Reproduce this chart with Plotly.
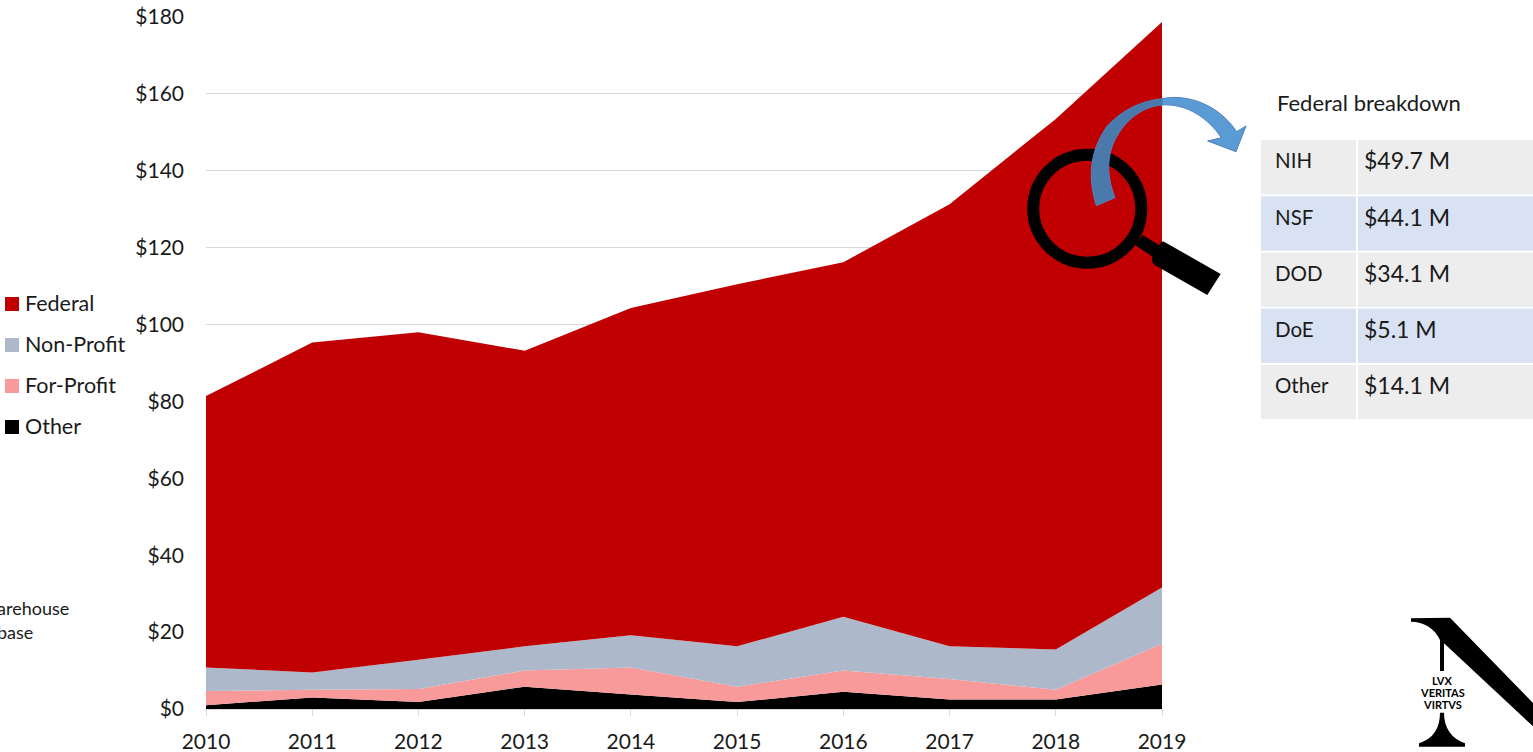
import plotly.graph_objects as go

years = [2010, 2011, 2012, 2013, 2014, 2015, 2016, 2017, 2018, 2019]
other = [1.0, 3.0, 1.8, 5.8, 3.8, 1.8, 4.5, 2.5, 2.5, 6.4]
for_profit = [3.7, 2.0, 3.4, 4.2, 7.0, 4.0, 5.5, 5.3, 2.5, 10.6]
non_profit = [6.1, 4.5, 7.6, 6.3, 8.4, 10.5, 14.0, 8.5, 10.5, 14.6]
federal = [70.6, 85.8, 85.2, 76.9, 85.1, 94.2, 92.2, 115.0, 138.0, 147.1]
y_ticks = [0, 20, 40, 60, 80, 100, 120, 140, 160, 180]
y_labels = ["$0", "$20", "$40", "$60", "$80", "$100", "$120", "$140", "$160", "$180"]
legend_names = ["Federal", "Non-Profit", "For-Profit", "Other"]
table_agencies = ["NIH", "NSF", "DOD", "DoE", "Other"]
table_amounts = ["$49.7 M", "$44.1 M", "$34.1 M", "$5.1 M", "$14.1 M"]

W, H = 1533, 752
FONT = "Lato, Carlito, sans-serif"
TXT = "#1a1a1a"
colors = {"Federal": "#C00000", "Non-Profit": "#ADB9CA", "For-Profit": "#F89A9A", "Other": "#000000"}


def fx(x):
    return x / W


def fy(y):
    return 1 - y / H


def crop_path(cmds, ox, oy):
    """Decoration outline given in 3x crop coordinates whose origin is (ox, oy)."""
    out = []
    for c in cmds:
        if isinstance(c, str):
            out.append(c)
        else:
            out.append(f"{fx(ox + c[0] / 3):.5f},{fy(oy + c[1] / 3):.5f}")
    return " ".join(out)


def lens(cmds):
    return crop_path(cmds, 1020, 90)


def logo(cmds):
    return crop_path(cmds, 1380, 600)


fig = go.Figure()
for name, vals in [("Other", other), ("For-Profit", for_profit), ("Non-Profit", non_profit), ("Federal", federal)]:
    fig.add_trace(go.Scatter(x=years, y=vals, name=name, mode="none", stackgroup="one",
                             fillcolor=colors[name], showlegend=False))

shapes, ann = [], []


def text(x, y, s, size=21, anchor="left", color=TXT, bold=False):
    ann.append(dict(xref="paper", yref="paper", x=fx(x), y=fy(y), text=f"<b>{s}</b>" if bold else s,
                    showarrow=False, xanchor=anchor, yanchor="middle",
                    font=dict(family=FONT, size=size, color=color), borderpad=0, borderwidth=0))


def rect(x0, y0, x1, y1, color):
    shapes.append(dict(type="rect", xref="paper", yref="paper", x0=fx(x0), x1=fx(x1), y0=fy(y0), y1=fy(y1),
                       fillcolor=color, line=dict(width=0), layer="above"))


def poly(d, fill, line=None):
    shapes.append(dict(type="path", xref="paper", yref="paper", layer="above", fillcolor=fill,
                       line=dict(color=line, width=1) if line else dict(width=0), path=d))


# legend
for i, n in enumerate(legend_names):
    yc = 304 + i * 41
    rect(5, yc - 7, 19, yc + 7, colors[n])
    text(25, yc - 1, n, size=21.5)

# clipped source note
text(-3, 608, "arehouse", size=18)
text(-3, 632, "base", size=18)

# table
text(1277, 102.5, "Federal breakdown", size=22)
row_fill = ["#EDEDED", "#D9E2F3"]
for i in range(5):
    y0 = 140 + i * 56.2
    fill = row_fill[i % 2]
    rect(1261, y0, 1356, y0 + 54.5, fill)
    rect(1358, y0, W, y0 + 54.5, fill)
    text(1275, y0 + 20.5, table_agencies[i], size=20.5)
    text(1364, y0 + 20.5, table_amounts[i], size=23)

# magnifier
shapes.append(dict(type="circle", xref="paper", yref="paper", x0=fx(1033.3), x1=fx(1141.3), y0=fy(262.7), y1=fy(154.7),
                   line=dict(color="#000000", width=12), fillcolor="rgba(0,0,0,0)", layer="above"))
poly(lens(["M", (368, 435), "L", (425, 470), "L", (405, 505), "L", (345, 465), "Z"]), "#000000")
poly(lens(["M", (432, 455), "L", (602, 552), "L", (562, 615), "L", (408, 527),
           "C", (395, 520), (392, 505), (400, 495), "L", (418, 465), "C", (422, 456), (428, 453), (432, 455), "Z"]),
     "#000000")

# curved arrow: the part over the red area is darker
poly(lens(["M", (229, 347), "C", (205, 270), (205, 190), (260, 110), "C", (300, 65), (360, 32), (427, 26),
           "L", (427, 45), "C", (360, 50), (305, 100), (278, 165), "C", (258, 220), (265, 270), (285, 323), "Z"]),
     "#4A7AAC", "#4F81BD")
poly(lens(["M", (427, 26), "C", (490, 12), (590, 35), (650, 125), "L", (678, 108), "L", (648, 185), "L", (563, 153),
           "L", (604, 143), "C", (565, 85), (500, 40), (427, 45), "Z"]),
     "#5B9BD5", "#4F81BD")

# logo
poly(logo(["M", (93, 55), "L", (210, 53), "L", (460, 310), "L", (460, 380), "L", (192, 130), "L", (192, 213),
           "L", (180, 213), "L", (180, 120), "C", (165, 85), (130, 65), (93, 65), "Z"]), "#000000")
poly(logo(["M", (180, 338), "L", (192, 338), "C", (192, 385), (215, 415), (255, 430), "L", (255, 440), "L", (117, 440),
           "L", (117, 430), "C", (160, 415), (180, 385), (180, 338), "Z"]), "#000000")
text(1442, 680, "LVX", size=11, anchor="center", color="#000000", bold=True)
text(1442, 692, "VERITAS", size=11, anchor="center", color="#000000", bold=True)
text(1442, 704, "VIRTVS", size=11, anchor="center", color="#000000", bold=True)

fig.update_layout(
    width=W, height=H, margin=dict(l=0, r=0, t=0, b=0, pad=0, autoexpand=False),
    paper_bgcolor="#FFFFFF", plot_bgcolor="#FFFFFF", showlegend=False,
    font=dict(family=FONT, size=21, color=TXT),
    shapes=shapes, annotations=ann,
    xaxis=dict(domain=[fx(206), fx(1162)], range=[2010, 2019], tickmode="array", tickvals=years,
               showgrid=False, zeroline=False, showline=True, linecolor="#D9D9D9", linewidth=1,
               ticks="outside", ticklen=6, tickcolor="#D9D9D9", tickwidth=1, ticklabelstandoff=8,
               tickfont=dict(family=FONT, size=21, color=TXT)),
    yaxis=dict(domain=[fy(709), fy(17)], range=[0, 180], tickmode="array", tickvals=y_ticks, ticktext=y_labels,
               showgrid=True, gridcolor="#D9D9D9", gridwidth=1, zeroline=False, showline=False, ticks="",
               ticklabelstandoff=21, tickfont=dict(family=FONT, size=21, color=TXT)),
)

fig.write_html("out.html", config=dict(displayModeBar=False),
               post_script="document.body.style.margin='0';document.body.style.overflow='hidden';")
